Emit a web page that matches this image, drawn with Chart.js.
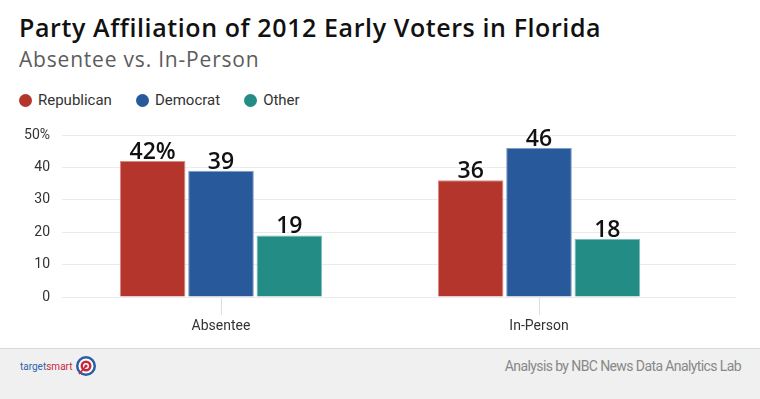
<!DOCTYPE html>
<html>
<head>
<meta charset="utf-8">
<script src="https://cdn.jsdelivr.net/npm/chart.js@4.4.1/dist/chart.umd.min.js"></script>
<style>
  html, body { margin: 0; padding: 0; background: #fff; }
  #wrap { position: relative; width: 760px; height: 399px; overflow: hidden; font-family: Roboto, sans-serif; }
  #title { position: absolute; left: 19px; top: 10px; font: 600 25px "Open Sans", sans-serif; color: #111; white-space: nowrap; letter-spacing: 0.6px; }
  #subtitle { position: absolute; left: 19px; top: 45px; font: 21px "Open Sans", sans-serif; color: #5c5c5c; white-space: nowrap; letter-spacing: 0.8px; }
  #legend { position: absolute; left: 19px; top: 91px; display: flex; font: 15px Roboto, sans-serif; color: #333; }
  .item { display: flex; align-items: center; margin-right: 24px; }
  .dot { width: 13px; height: 13px; border-radius: 50%; margin-right: 6px; }
  #chartBox { position: absolute; left: 0; top: 110px; width: 760px; height: 238px; }
  #footer { position: absolute; left: 0; top: 348px; width: 760px; height: 51px; background: #f0f0f0; border-top: 1px solid #dadada; box-sizing: border-box; }
  #logo { position: absolute; left: 20px; top: 6px; display: flex; align-items: center; font: 10px Roboto, sans-serif; }
  #logo .t { color: #2f63ad; }
  #logo .s { color: #c8283c; }
  #logo svg { margin-left: 3px; }
  #credit { position: absolute; right: 19px; top: 9px; font: 14px Roboto, sans-serif; letter-spacing: -0.6px; color: #888; }
</style>
</head>
<body>
<div id="wrap">
  <div id="title">Party Affiliation of 2012 Early Voters in Florida</div>
  <div id="subtitle">Absentee vs. In-Person</div>
  <div id="legend"></div>
  <div id="chartBox"><canvas id="chart" width="760" height="238"></canvas></div>
  <div id="footer">
    <div id="logo">
      <span class="t">target</span><span class="s">smart</span>
      <svg width="22" height="22" viewBox="-11 -11 22 22">
        <circle r="10" fill="#2a5da8"/>
        <circle r="7.5" fill="#fff"/>
        <circle r="5.5" fill="#c8283c"/>
        <circle r="3" fill="#fff"/>
        <circle r="1.6" fill="#c8283c"/>
        <line x1="0" y1="0" x2="-7" y2="8" stroke="#c8283c" stroke-width="1.6"/>
      </svg>
    </div>
    <div id="credit">Analysis by NBC News Data Analytics Lab</div>
  </div>
</div>
<script>
// chart values
const categories = ['Absentee', 'In-Person'];
const seriesNames = ['Republican', 'Democrat', 'Other'];
const seriesColors = ['#b3352b', '#28599a', '#228c85'];
const seriesBorders = ['#d98a84', '#7f9ec6', '#7cbdb7'];
const republican = [42, 36];
const democrat = [39, 46];
const other = [19, 18];
const yTickLabels = ['0', '10', '20', '30', '40', '50%'];

// html legend
const legendEl = document.getElementById('legend');
seriesNames.forEach((name, i) => {
  const item = document.createElement('div');
  item.className = 'item';
  item.innerHTML = '<span class="dot" style="background:' + seriesColors[i] + '"></span>' + name;
  legendEl.appendChild(item);
});

// numbers above the bars
const valueLabels = {
  id: 'valueLabels',
  afterDatasetsDraw(chart) {
    const ctx = chart.ctx;
    ctx.save();
    ctx.font = '600 23px "Open Sans", sans-serif';
    ctx.fillStyle = '#111';
    ctx.textAlign = 'center';
    ctx.textBaseline = 'alphabetic';
    chart.data.datasets.forEach((ds, di) => {
      chart.getDatasetMeta(di).data.forEach((bar, i) => {
        let text = String(ds.data[i]);
        if (di === 0 && i === 0) text += '%';
        ctx.fillText(text, bar.x, bar.y - 2);
      });
    });
    ctx.restore();
  }
};

// horizontal grid lines run a bit past the plot area
const gridExtend = {
  id: 'gridExtend',
  beforeDatasetsDraw(chart) {
    const { ctx, chartArea, scales: { y } } = chart;
    ctx.save();
    ctx.strokeStyle = '#ebebeb';
    ctx.lineWidth = 1;
    y.ticks.forEach(t => {
      const py = Math.round(y.getPixelForValue(t.value) - 0.5) + 0.5;
      ctx.beginPath();
      ctx.moveTo(chartArea.right, py);
      ctx.lineTo(chartArea.right + 38, py);
      ctx.stroke();
    });
    ctx.restore();
  }
};

const seriesData = [republican, democrat, other];

new Chart(document.getElementById('chart').getContext('2d'), {
  type: 'bar',
  data: {
    labels: categories,
    datasets: seriesNames.map((name, i) => ({
      label: name,
      data: seriesData[i],
      backgroundColor: seriesColors[i],
      borderColor: seriesBorders[i],
      borderWidth: 1,
      barPercentage: 0.96,
      categoryPercentage: 0.645
    }))
  },
  options: {
    responsive: false,
    animation: false,
    layout: { padding: { top: 25, right: 62, bottom: 11, left: 0 } },
    plugins: {
      legend: { display: false },
      tooltip: { enabled: false }
    },
    scales: {
      x: {
        offset: true,
        grid: { offset: false, drawOnChartArea: false, tickLength: 18, color: '#dedede' },
        border: { display: false },
        ticks: { font: { family: 'Roboto', size: 14 }, color: '#333', padding: 3 },
        afterFit: scale => { scale.height = 40; }
      },
      y: {
        min: 0,
        max: 50,
        ticks: {
          stepSize: 10,
          font: { family: 'Roboto', size: 14 },
          color: '#333',
          padding: 12,
          callback: (v, i) => yTickLabels[i]
        },
        grid: { color: '#ebebeb', drawTicks: false },
        border: { display: false },
        afterFit: scale => { scale.width = 62; }
      }
    }
  },
  plugins: [gridExtend, valueLabels]
});
</script>
</body>
</html>
